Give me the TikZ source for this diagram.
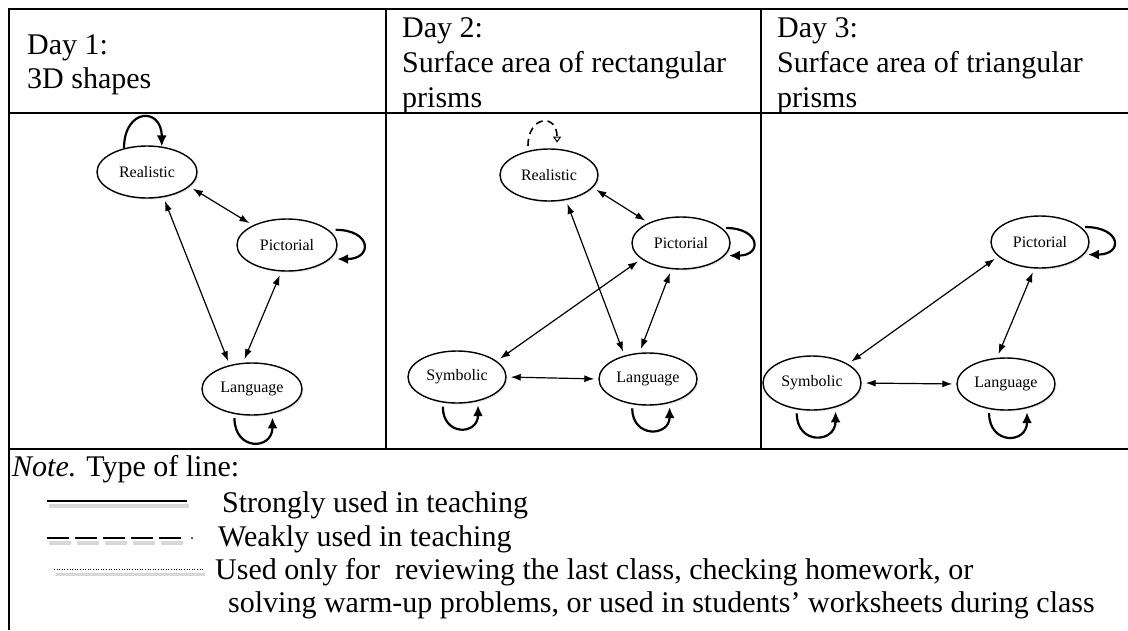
\documentclass[tikz,border=0pt]{standalone}
\usepackage{fontspec}
\setmainfont{Liberation Serif}
\usetikzlibrary{arrows.meta,shapes.geometric,shadows}

\begin{document}
\begin{tikzpicture}[x=1pt,y=-1pt,
  rep/.style={ellipse,draw,line width=1.4pt,minimum width=100pt,minimum height=52pt,
    inner sep=0pt,fill=white,font=\fontsize{16}{18}\selectfont,
    drop shadow={shadow xshift=1.5pt,shadow yshift=-1.5pt,opacity=0.2}},
  link/.style={{Latex[length=10pt,width=7pt]}-{Latex[length=10pt,width=7pt]},
    line width=1.2pt,shorten <=4pt,shorten >=4pt},
  selfloop/.style={-{Latex[length=11pt,width=10pt]},line width=2.2pt},
  weakloop/.style={-{Triangle[open,length=6pt,width=8pt,line width=1pt]},line width=1.6pt,
    dash pattern=on 7pt off 5pt},
  rule/.style={line width=2pt},
  inrule/.style={line width=1.5pt},
  head/.style={anchor=base west,inner sep=0pt,font=\fontsize{30}{35}\selectfont},
  notetxt/.style={anchor=base west,inner sep=0pt,font=\fontsize{30}{34}\selectfont},
  lgshadow/.style={line width=4pt,black!25,opacity=0.6},
]
\useasboundingbox (0,0) rectangle (1128,630);
\fill[white] (0,0) rectangle (1128,630);

% table rules
\draw[rule] (8,9) -- (1128,9);
\draw[rule] (9,8) -- (9,630);
\draw[rule] (9,113) -- (1128,113);
\draw[rule] (9,449) -- (1128,449);
\draw[inrule] (386,9) -- (386,449);
\draw[inrule] (761,9) -- (761,449);

% column headings
\node[head] (h1a) at (27,54) {Day 1:};
\node[head] (h1b) at (27,88) {3D shapes};
\node[head] (h2a) at (402,37) {Day 2:};
\node[head] (h2b) at (402,72) {Surface area of rectangular};
\node[head] (h2c) at (402,107) {prisms};
\node[head] (h3a) at (777,37) {Day 3:};
\node[head] (h3b) at (777,72) {Surface area of triangular};
\node[head] (h3c) at (777,107) {prisms};

% Day 1
\node[rep] (R1) at (147,172) {Realistic};
\node[rep] (P1) at (287,245) {Pictorial};
\node[rep] (L1) at (252,389) {Language};
\draw[link] (R1.-19) -- (P1.150);
\draw[link] (R1.-57) -- (L1.133);
\draw[link] (P1.-102) -- (L1.109);
\draw[selfloop] (R1.134) .. controls +(0,-40) and +(0,-40) .. (R1.60);
\draw[selfloop] ([xshift=7pt]P1.20) .. controls +(36,0) and +(36,0) .. ([xshift=7pt]P1.-18);
\draw[selfloop] ([yshift=-4pt]L1.-125) .. controls +(0,33) and +(0,33) .. ([yshift=-4pt]L1.-50);

% Day 2
\node[rep,minimum width=98pt] (R2) at (549,175) {Realistic};
\node[rep,minimum width=98pt] (P2) at (681,243) {Pictorial};
\node[rep,minimum width=98pt] (S2) at (457,377) {Symbolic};
\node[rep,minimum width=98pt] (L2) at (648,379) {Language};
\draw[link] (R2.-16) -- (P2.148);
\draw[link] (R2.-56) -- (L2.135);
\draw[link] (P2.-158) -- (S2.22);
\draw[link] (P2.-110) -- (L2.108);
\draw[link] (S2.east) -- (L2.west);
\draw[weakloop] ([yshift=5pt]R2.131) .. controls +(0,-30) and +(0,-30) .. ([yshift=6pt]R2.73);
\draw[selfloop] ([xshift=4pt]P2.20) .. controls +(34,0) and +(34,0) .. ([xshift=4pt]P2.-16);
\draw[selfloop] ([yshift=-4pt]S2.-119) .. controls +(0,30) and +(0,30) .. ([yshift=-4pt]S2.-49);
\draw[selfloop] ([yshift=-4pt]L2.-122) .. controls +(0,30) and +(0,30) .. ([yshift=-4pt]L2.-48);

% Day 3
\node[rep,minimum width=98pt] (P3) at (1040,242) {Pictorial};
\node[rep,minimum width=98pt,minimum height=54pt] (S3) at (812,383) {Symbolic};
\node[rep,minimum width=98pt] (L3) at (1006,384) {Language};
\draw[link] (P3.-161) -- (S3.28);
\draw[link] (P3.-102) -- (L3.109);
\draw[link] (S3.east) -- (L3.west);
\draw[selfloop] ([xshift=4pt]P3.20) .. controls +(36,0) and +(36,0) .. ([xshift=4pt]P3.-16);
\draw[selfloop] ([yshift=-4pt]S3.-120) .. controls +(0,32) and +(0,32) .. ([yshift=-4pt]S3.-46);
\draw[selfloop] ([yshift=-4pt]L3.-124) .. controls +(0,32) and +(0,32) .. ([yshift=-4pt]L3.-49);

% legend
\node[notetxt] (note) at (12,476) {\textit{Note.} Type of line:};
\draw[lgshadow] (49,506) -- (189,506);
\draw[line width=1.6pt] (47,501) -- (187,501);
\node[notetxt] (s1) at (222,512) {Strongly used in teaching};
\draw[lgshadow,dash pattern=on 22pt off 6pt] (49,543) -- (183,543);
\draw[line width=1.6pt,dash pattern=on 22pt off 6pt] (47,538) -- (181,538);
\fill (192,538) circle (1pt);
\node[notetxt] (s2) at (218,546) {Weakly used in teaching};
\draw[lgshadow,line width=3pt] (56,574) -- (205,574);
\draw[line width=0.9pt,dash pattern=on 1pt off 1.6pt] (54,569) -- (203,569);
\node[notetxt] (s3) at (215,579) {Used only for\ \ reviewing the last class, checking homework, or};
\node[notetxt] (s4) at (228,612) {solving warm-up problems, or used in students’ worksheets during class};
\end{tikzpicture}
\end{document}
